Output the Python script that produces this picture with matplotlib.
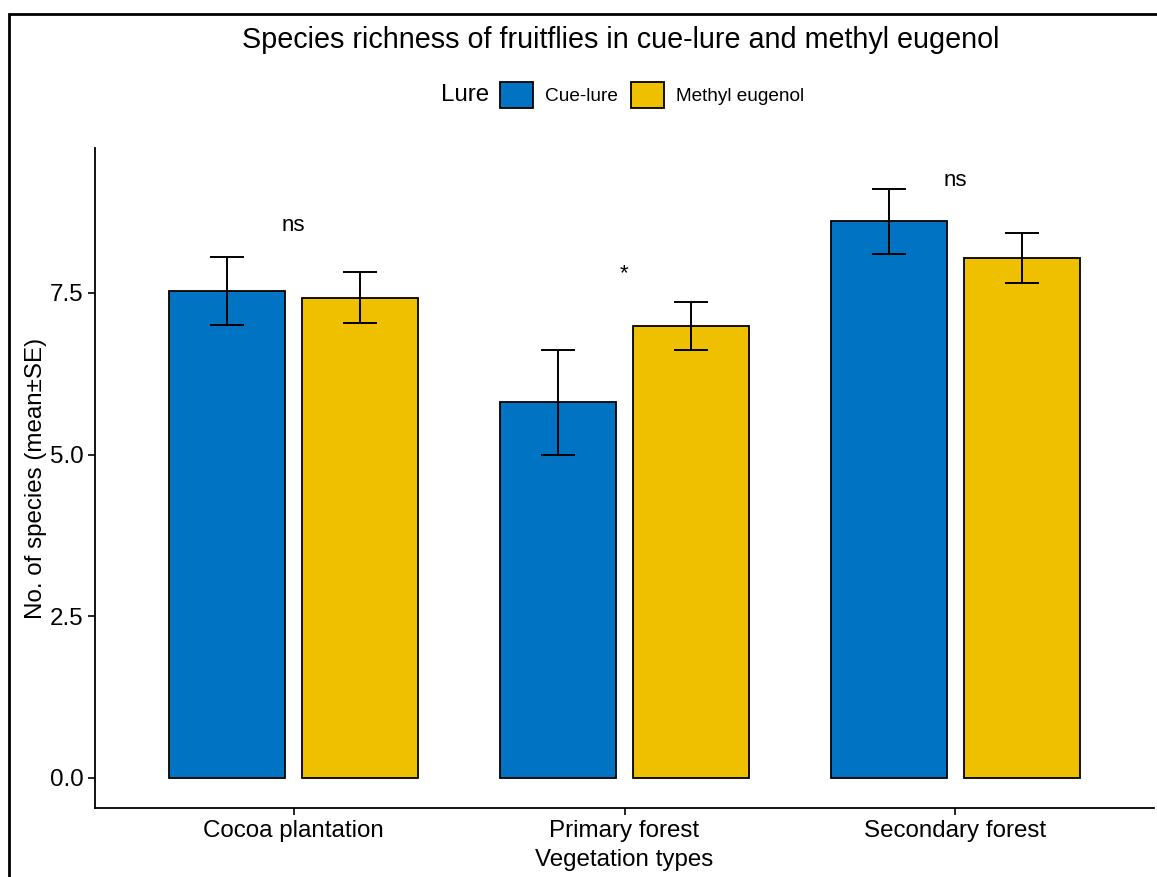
import matplotlib.pyplot as plt
from matplotlib.patches import Patch, Rectangle
import numpy as np

plt.rcParams['font.family'] = ['Liberation Sans', 'DejaVu Sans']

# data
vegetacion = ['Cocoa plantation', 'Primary forest', 'Secondary forest']
cue_media = [7.53, 5.81, 8.61]
cue_se = [0.52, 0.81, 0.50]
metil_media = [7.43, 6.99, 8.04]
metil_se = [0.39, 0.37, 0.39]
signif = ['ns', '*', 'ns']
signif_y = [8.55, 7.80, 9.24]

azul = '#0073C2'
amarillo = '#EFC000'

fig = plt.figure(figsize=(11.57, 8.77), dpi=100)
ax = fig.add_axes([95/1157, 69/877, 1059/1157, 660/877])

x = np.arange(len(vegetacion))
ancho = 0.35
ax.bar(x - 0.2, cue_media, ancho, color=azul, edgecolor='black', linewidth=1.3)
ax.bar(x + 0.2, metil_media, ancho, color=amarillo, edgecolor='black', linewidth=1.3)
ax.errorbar(x - 0.2, cue_media, yerr=cue_se, fmt='none', ecolor='black',
            elinewidth=1.4, capsize=12, capthick=1.4)
ax.errorbar(x + 0.2, metil_media, yerr=metil_se, fmt='none', ecolor='black',
            elinewidth=1.4, capsize=12, capthick=1.4)

for i in range(len(vegetacion)):
    ax.text(x[i], signif_y[i], signif[i], ha='center', va='center', fontsize=16)

ax.set_xlim(-0.6, 2.6)
ax.set_ylim(-0.464, 9.742)
ax.set_yticks([0, 2.5, 5.0, 7.5])
ax.set_yticklabels(['0.0', '2.5', '5.0', '7.5'])
ax.set_xticks(x)
ax.set_xticklabels(vegetacion)
ax.tick_params(labelsize=17.4, length=5, width=1.2, colors='black')
ax.spines['top'].set_visible(False)
ax.spines['right'].set_visible(False)
ax.spines['left'].set_linewidth(1.3)
ax.spines['bottom'].set_linewidth(1.3)
ax.set_xlabel('Vegetation types', fontsize=17.4, labelpad=5)
ax.set_ylabel('No. of species (mean±SE)', fontsize=17.4, labelpad=2)

fig.text(621/1157, 1 - 40/877, 'Species richness of fruitflies in cue-lure and methyl eugenol',
         ha='center', va='center', fontsize=20.7)
fig.text(465/1157, 1 - 95/877, 'Lure', ha='center', va='center', fontsize=17.4)
manijas = [Patch(facecolor=azul, edgecolor='black', linewidth=1.3),
           Patch(facecolor=amarillo, edgecolor='black', linewidth=1.3)]
fig.legend(manijas, ['Cue-lure', 'Methyl eugenol'], loc='center left',
           bbox_to_anchor=(500/1157, 1 - 95/877), ncol=2, frameon=False,
           fontsize=13.7, handlelength=1.74, handleheight=1.74, handletextpad=0.65,
           columnspacing=0.65, borderpad=0, borderaxespad=0)

# marco negro alrededor
fig.patches.append(Rectangle((9/1157, -0.1), 1.2, 1 - 14/877 + 0.1,
                             transform=fig.transFigure, fill=False,
                             edgecolor='black', linewidth=2))

fig.savefig('out.png', dpi=100)
